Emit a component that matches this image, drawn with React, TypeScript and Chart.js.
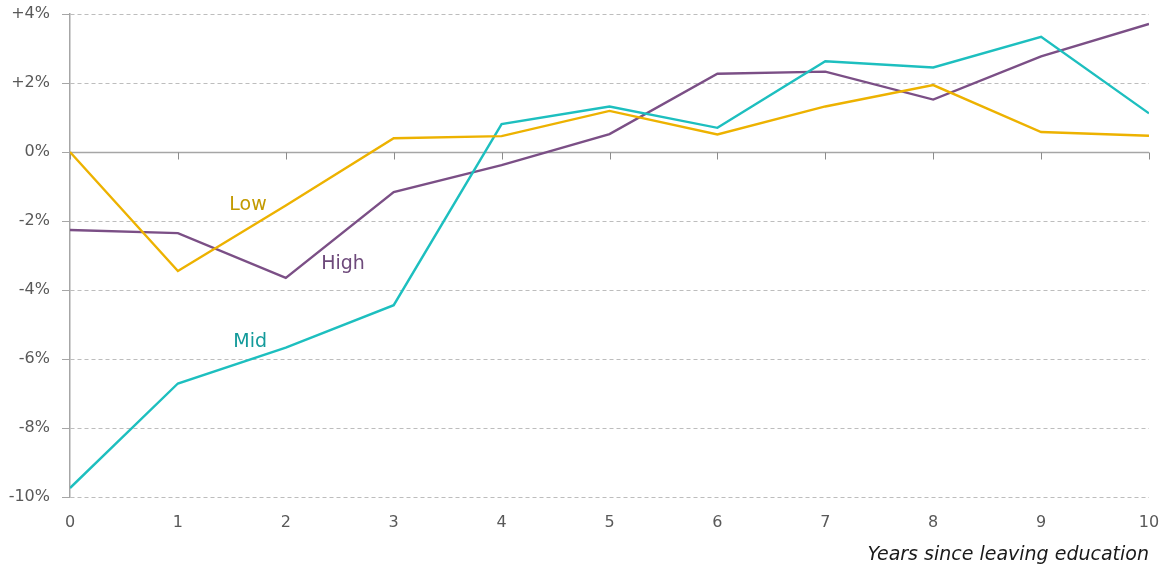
import React, { useEffect, useRef } from "react";
import { Chart, registerables } from "chart.js";

Chart.register(...registerables);

const years = [0, 1, 2, 3, 4, 5, 6, 7, 8, 9, 10];
const lowValues = [0, -3.45, -1.55, 0.4, 0.46, 1.19, 0.51, 1.32, 1.94, 0.58, 0.47];
const midValues = [-9.74, -6.71, -5.67, -4.44, 0.81, 1.32, 0.7, 2.63, 2.45, 3.34, 1.12];
const highValues = [-2.26, -2.35, -3.65, -1.16, -0.38, 0.52, 2.27, 2.33, 1.52, 2.77, 3.71];
const seriesNames = ["Low", "Mid", "High"];
const yTickValues = [-10, -8, -6, -4, -2, 0, 2, 4];
const xTitle = "Years since leaving education";

const LOW_COLOR = "#EDB200";
const MID_COLOR = "#1DBFBF";
const HIGH_COLOR = "#7B4F86";

// label anchors in data units (x year, y %)
const labelX = [1.65, 1.67, 2.53];
const labelY = [-1.54, -5.5, -3.25];
const labelColors = ["#C39A00", "#139A9A", "#6E4A7B"];

const FONT = "'DejaVu Sans', sans-serif";

export default function App() {
  const ref = useRef<HTMLCanvasElement | null>(null);

  useEffect(() => {
    document.body.style.margin = "0";
    const canvas = ref.current!;
    const toPts = (vals: number[]) => years.map((x, i) => ({ x, y: vals[i] }));

    const customPlugin = {
      id: "custom",
      beforeDatasetsDraw(chart: any) {
        const ctx = chart.ctx;
        const xs = chart.scales.x;
        const ys = chart.scales.y;
        const area = chart.chartArea;
        const y0 = Math.round(ys.getPixelForValue(0)) + 0.5;
        ctx.save();
        ctx.strokeStyle = "#a6a6a6";
        ctx.lineWidth = 1.5;
        ctx.beginPath();
        ctx.moveTo(area.left, y0);
        ctx.lineTo(area.right, y0);
        ctx.stroke();
        ctx.lineWidth = 1;
        ctx.strokeStyle = "#8c8c8c";
        for (const v of years) {
          const px = Math.round(xs.getPixelForValue(v)) + 0.5;
          ctx.beginPath();
          ctx.moveTo(px, y0);
          ctx.lineTo(px, y0 + 7);
          ctx.stroke();
        }
        ctx.restore();
      },
      afterDatasetsDraw(chart: any) {
        const ctx = chart.ctx;
        const xs = chart.scales.x;
        const ys = chart.scales.y;
        ctx.save();
        ctx.font = `19px ${FONT}`;
        ctx.textAlign = "center";
        ctx.textBaseline = "middle";
        seriesNames.forEach((name, i) => {
          ctx.fillStyle = labelColors[i];
          ctx.fillText(name, xs.getPixelForValue(labelX[i]), ys.getPixelForValue(labelY[i]));
        });
        ctx.restore();
      },
    };

    const chart = new Chart(canvas, {
      type: "line",
      data: {
        datasets: [
          { label: seriesNames[0], data: toPts(lowValues), borderColor: LOW_COLOR, borderWidth: 2.4, pointRadius: 0, tension: 0 },
          { label: seriesNames[1], data: toPts(midValues), borderColor: MID_COLOR, borderWidth: 2.4, pointRadius: 0, tension: 0 },
          { label: seriesNames[2], data: toPts(highValues), borderColor: HIGH_COLOR, borderWidth: 2.4, pointRadius: 0, tension: 0 },
        ],
      },
      options: {
        animation: false,
        responsive: false,
        maintainAspectRatio: false,
        layout: { padding: { top: 0, right: 0, left: 0, bottom: 0 } },
        plugins: { legend: { display: false }, tooltip: { enabled: false } },
        scales: {
          x: {
            type: "linear",
            min: 0,
            max: 10,
            afterFit(scale: any) {
              scale.height = 72;
              scale.paddingRight = 12;
            },
            afterBuildTicks(scale: any) {
              scale.ticks = years.map((v) => ({ value: v }));
            },
            grid: { display: false, drawTicks: false },
            border: { display: false },
            ticks: {
              font: { family: FONT, size: 16 },
              color: "#595959",
              padding: 16,
              maxRotation: 0,
              callback: (v: any) => String(v),
            },
            title: {
              display: true,
              text: xTitle,
              align: "end",
              color: "#1a1a1a",
              font: { family: FONT, size: 19, style: "italic" },
              padding: { top: 4, bottom: 3 },
            },
          },
          y: {
            min: -10,
            max: 4,
            afterFit(scale: any) {
              scale.width = 70;
              scale.paddingTop = 14;
              scale.paddingBottom = 0;
            },
            afterBuildTicks(scale: any) {
              scale.ticks = yTickValues.map((v) => ({ value: v }));
            },
            grid: {
              color: (c: any) => (c.tick && c.tick.value === 0 ? "rgba(0,0,0,0)" : "#bdbdbd"),
              tickColor: "#a6a6a6",
              tickLength: 8,
              lineWidth: 1,
            },
            border: { display: true, color: "#a6a6a6", width: 1.5, dash: [4, 3] },
            ticks: {
              font: { family: FONT, size: 16 },
              color: "#595959",
              padding: 12,
              callback: (v: any) => (v > 0 ? `+${v}%` : `${v}%`),
            },
          },
        },
      },
      plugins: [customPlugin],
    } as any);

    return () => chart.destroy();
  }, []);

  return <canvas ref={ref} width={1161} height={569} style={{ display: "block" }} />;
}
